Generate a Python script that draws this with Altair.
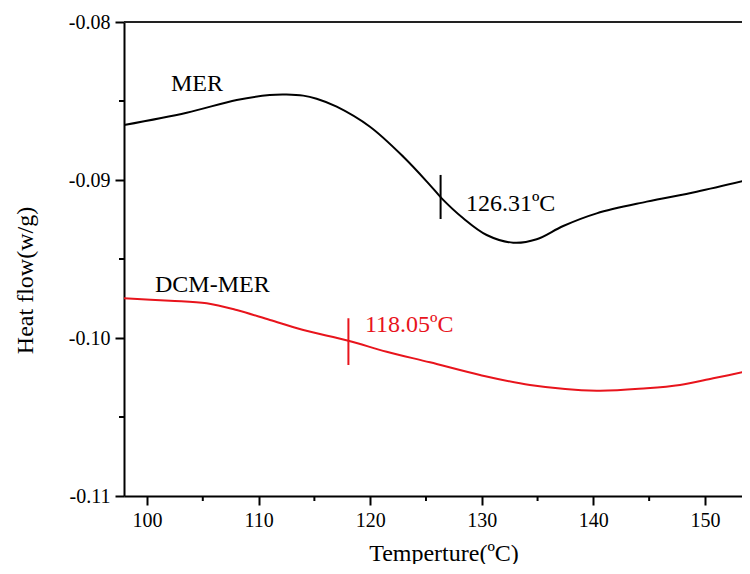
import altair as alt
import pandas as pd

# ---- data ----
mer_T = [97.94, 103.56, 108.04, 111.0, 112.5, 114.0, 115.2, 117.0, 119.98, 122.97, 125.36,
         126.41, 128.34, 130.44, 132.82, 134.92, 137.30, 140.30, 144.78, 149.26, 154.03]
mer_v = [-0.08652, -0.08574, -0.08494, -0.08462, -0.08459, -0.08466, -0.08486, -0.08536,
         -0.08663, -0.08853, -0.09032, -0.09116, -0.09242, -0.09348, -0.09397, -0.09375,
         -0.09291, -0.09211, -0.09137, -0.09074, -0.08996]

dcm_T = [97.94, 102.06, 105.35, 108.04, 111.02, 114.01, 118.04, 121.48, 125.36, 129.84,
         134.32, 140.30, 144.78, 147.76, 150.74, 154.03]
dcm_v = [-0.09749, -0.09764, -0.09780, -0.09823, -0.09886, -0.09949, -0.10017, -0.10087,
         -0.10154, -0.10234, -0.10297, -0.10334, -0.10318, -0.10297, -0.10255, -0.10207]

# glass transition markers (temperature, lower/upper value of the short vertical mark)
tg_T = [126.31, 118.05]
tg_lo = [-0.09247, -0.10171]
tg_hi = [-0.08968, -0.09875]
tg_color = ["#000000", "#e8141c"]

# text labels
lab_text = ["MER", "DCM-MER", "126.31ºC", "118.05ºC"]
lab_T = [102.15, 100.72, 128.58, 119.53]
lab_v = [-0.08437, -0.09707, -0.09196, -0.09960]
lab_color = ["#000000", "#000000", "#000000", "#e8141c"]

x_ticks = [100, 110, 120, 130, 140, 150]
x_minor = [105, 115, 125, 135, 145]
y_ticks = [-0.11, -0.10, -0.09, -0.08]
y_minor = [-0.105, -0.095, -0.085]

x_domain = [97.94, 153.32]
y_domain = [-0.11, -0.08]

W, H = 618, 474
FONT = "Liberation Serif"

xs = alt.Scale(domain=x_domain, nice=False, zero=False)
ys = alt.Scale(domain=y_domain, nice=False, zero=False)

x_axis = alt.Axis(values=x_ticks, format="d", tickSize=9, tickWidth=2, tickColor="black",
                  domainWidth=2, domainColor="black", labelFont=FONT, labelFontSize=20,
                  labelColor="black", labelPadding=5, grid=False,
                  title="Temperture(ºC)", titleFont=FONT, titleFontSize=24,
                  titleFontWeight="normal", titleColor="black", titleX=319.5, titleY=64,
                  titleAlign="center", titleBaseline="alphabetic")
y_axis = alt.Axis(values=y_ticks, labelExpr="'-' + format(abs(datum.value), '.2f')",
                  tickSize=9, tickWidth=2, tickColor="black", domainWidth=2,
                  domainColor="black", labelFont=FONT, labelFontSize=20, labelColor="black",
                  labelPadding=5, grid=False,
                  title="Heat flow(w/g)", titleFont=FONT, titleFontSize=24,
                  titleFontWeight="normal", titleColor="black", titleX=-99, titleY=258,
                  titleAngle=270, titleAlign="center", titleBaseline="middle")

mer_df = pd.DataFrame({"T": mer_T, "v": mer_v})
dcm_df = pd.DataFrame({"T": dcm_T, "v": dcm_v})
tg_df = pd.DataFrame({"T": tg_T, "lo": tg_lo, "hi": tg_hi, "c": tg_color})
lab_df = pd.DataFrame({"t": lab_text, "T": lab_T, "v": lab_v, "c": lab_color})
xm_df = pd.DataFrame({"T": x_minor})
ym_df = pd.DataFrame({"v": y_minor})

mer = alt.Chart(mer_df).mark_line(color="black", strokeWidth=2, interpolate="catmull-rom",
                                  clip=True).encode(
    x=alt.X("T:Q", scale=xs, axis=x_axis),
    y=alt.Y("v:Q", scale=ys, axis=y_axis),
)
dcm = alt.Chart(dcm_df).mark_line(color="#e8141c", strokeWidth=2, interpolate="catmull-rom",
                                  clip=True).encode(
    x=alt.X("T:Q", scale=xs),
    y=alt.Y("v:Q", scale=ys),
)
tg = alt.Chart(tg_df).mark_rule(strokeWidth=2).encode(
    x=alt.X("T:Q", scale=xs),
    y=alt.Y("lo:Q", scale=ys),
    y2="hi:Q",
    color=alt.Color("c:N", scale=None),
)
labels = alt.Chart(lab_df).mark_text(align="left", baseline="alphabetic", font=FONT,
                                     fontSize=24).encode(
    x=alt.X("T:Q", scale=xs),
    y=alt.Y("v:Q", scale=ys),
    text="t:N",
    color=alt.Color("c:N", scale=None),
)
xminor = alt.Chart(xm_df).mark_rule(color="black", strokeWidth=2).encode(
    x=alt.X("T:Q", scale=xs),
    y=alt.value(H),
    y2=alt.value(H + 5),
)
yminor = alt.Chart(ym_df).mark_rule(color="black", strokeWidth=2).encode(
    y=alt.Y("v:Q", scale=ys),
    x=alt.value(0),
    x2=alt.value(-5),
)
top = alt.Chart(mer_df).mark_rule(color="#222222", strokeWidth=2).encode(
    x=alt.value(0), x2=alt.value(W), y=alt.value(0),
)

chart = alt.layer(mer, dcm, tg, labels, xminor, yminor, top).properties(
    width=W, height=H,
    padding={"left": 116, "top": 14, "right": 0, "bottom": 68},
    autosize=alt.AutoSizeParams(type="none"),
    background="white",
).configure_view(stroke=None)

chart.save("out.html", embed_options={"renderer": "svg", "actions": False})
